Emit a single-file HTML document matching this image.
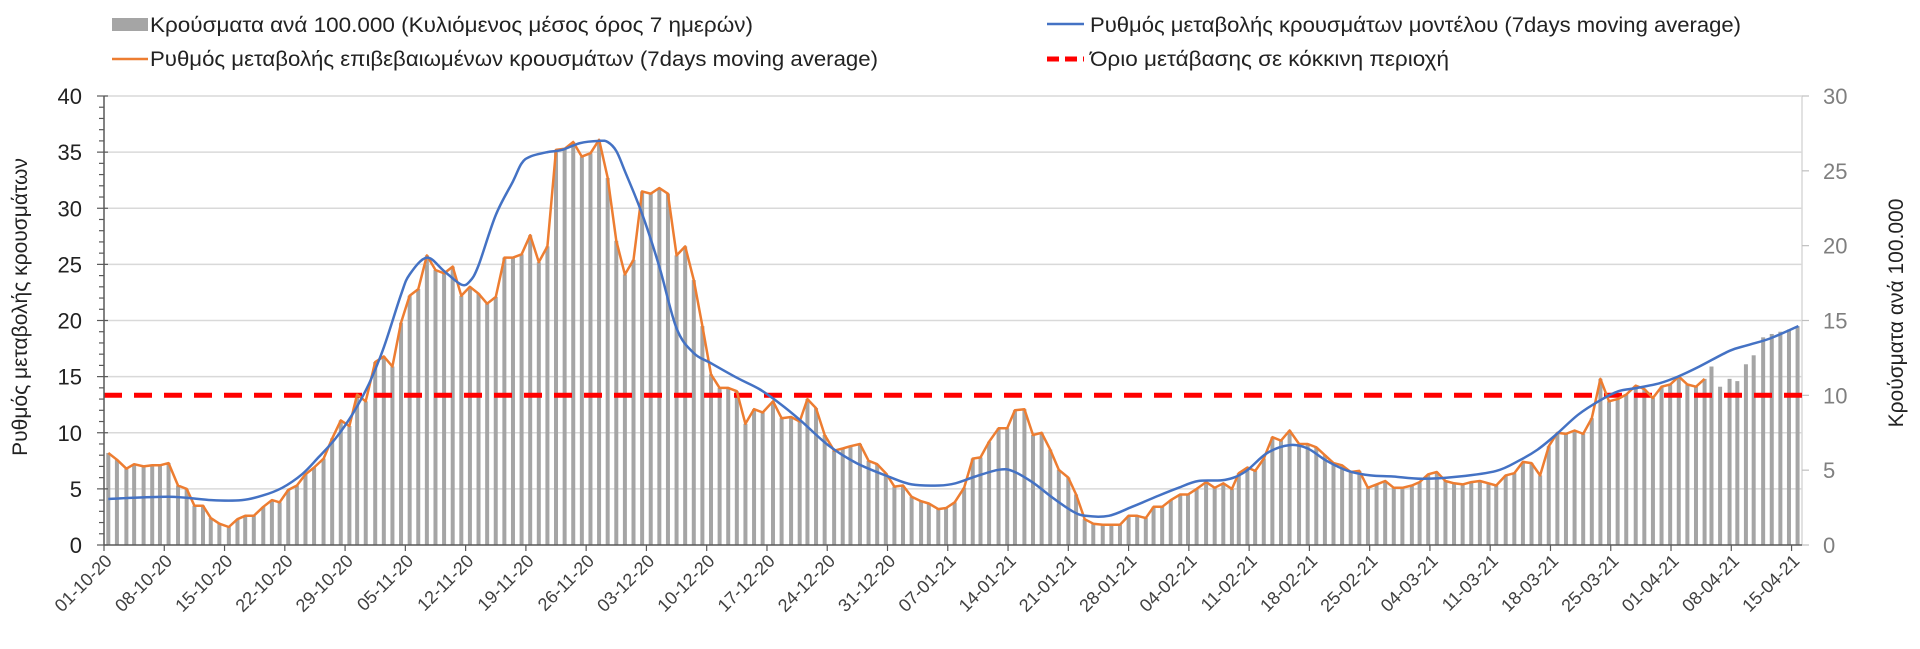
<!DOCTYPE html>
<html><head><meta charset="utf-8"><style>
html,body{margin:0;padding:0;background:#fff;}
svg{display:block;font-family:"Liberation Sans",sans-serif;}
</style></head><body>
<svg id="c" width="1920" height="649" viewBox="0 0 1920 649" xmlns="http://www.w3.org/2000/svg">
<rect width="1920" height="649" fill="#fff"/>
<g id="grid"></g>
<g id="bars"></g>
<line x1="104" y1="395.3" x2="1802" y2="395.3" stroke="#ff0000" stroke-width="5" stroke-dasharray="18 12"/>
<g id="lines"></g>
<g id="axes"></g>
<!-- legend -->
<rect x="112" y="18" width="36" height="13" fill="#a5a5a5"/>
<text x="150" y="32" font-size="21" fill="#222" textLength="603" lengthAdjust="spacingAndGlyphs">Κρούσματα ανά 100.000 (Κυλιόμενος μέσος όρος 7 ημερών)</text>
<line x1="112" y1="59" x2="148" y2="59" stroke="#ed7d31" stroke-width="2.5"/>
<text x="150" y="66" font-size="21" fill="#222" textLength="728" lengthAdjust="spacingAndGlyphs">Ρυθμός μεταβολής επιβεβαιωμένων κρουσμάτων (7days moving average)</text>
<line x1="1047" y1="24" x2="1084" y2="24" stroke="#4472c4" stroke-width="2.5"/>
<text x="1090" y="32" font-size="21" fill="#222" textLength="651" lengthAdjust="spacingAndGlyphs">Ρυθμός μεταβολής κρουσμάτων μοντέλου (7days moving average)</text>
<line x1="1047" y1="59" x2="1084" y2="59" stroke="#ff0000" stroke-width="5" stroke-dasharray="12 6"/>
<text x="1090" y="66" font-size="21" fill="#222" textLength="359" lengthAdjust="spacingAndGlyphs">Όριο μετάβασης σε κόκκινη περιοχή</text>
<text transform="translate(27,307) rotate(-90)" text-anchor="middle" font-size="21" fill="#222">Ρυθμός μεταβολής κρουσμάτων</text>
<text transform="translate(1903,313) rotate(-90)" text-anchor="middle" font-size="21" fill="#222">Κρούσματα ανά 100.000</text>
</svg>
<script>
var NS="http://www.w3.org/2000/svg";
function el(p,t,a,txt){var e=document.createElementNS(NS,t);for(var k in a)e.setAttribute(k,a[k]);if(txt!==undefined)e.textContent=txt;document.getElementById(p).appendChild(e);return e;}
var Y0=545,PU=11.225;
function X(d){return 108.3+8.61*d;}
function Y(v){return Y0-v*PU;}
// grid
for(var v=5;v<=40;v+=5){el("grid","line",{x1:104,x2:1802,y1:Y(v),y2:Y(v),stroke:"#d9d9d9","stroke-width":1.5});}
el("grid","line",{x1:1802,x2:1802,y1:Y(40),y2:Y0,stroke:"#d9d9d9","stroke-width":1.5});
var O=[[0,8.2],[1,7.6],[2.1,6.8],[3,7.2],[4.1,7.0],[5.1,7.1],[6,7.1],[7,7.3],[8.1,5.3],[9.1,5.0],[10,3.5],[11,3.5],[11.9,2.4],[12.9,1.9],[14,1.6],[15,2.3],[15.9,2.6],[16.9,2.6],[18,3.4],[19,4.0],[19.9,3.8],[20.9,4.9],[21.9,5.3],[22.9,6.3],[23.9,6.9],[25,7.7],[26,9.5],[27,11.1],[28,10.6],[28.9,13.4],[29.9,12.8],[31,16.3],[32,16.8],[33,15.9],[34,19.8],[35,22.2],[36,22.8],[37,25.8],[38,24.5],[39,24.2],[40,24.8],[41,22.2],[42,23.0],[43,22.4],[44,21.5],[45,22.1],[46,25.6],[47,25.6],[48,25.9],[49,27.6],[50,25.2],[51,26.6],[52,35.2],[53,35.3],[54,35.9],[55,34.6],[56,34.9],[57,36.1],[58,32.7],[59,27.1],[60,24.1],[61,25.4],[62,31.5],[63,31.3],[64,31.8],[65,31.3],[66,25.8],[67,26.6],[68,23.6],[69,19.5],[70,15.2],[71,14.0],[72,14.0],[73,13.7],[74,10.8],[75,12.1],[76,11.8],[77.2,12.8],[78.2,11.3],[79.3,11.4],[80.3,11.0],[81.2,13.0],[82.2,12.2],[83.2,9.8],[84.3,8.4],[85.3,8.6],[86.2,8.8],[87.3,9.0],[88.3,7.5],[89.3,7.2],[90.3,6.4],[91.3,5.2],[92.3,5.3],[93.3,4.3],[94.4,3.9],[95.3,3.7],[96.4,3.2],[97.3,3.3],[98.3,3.8],[99.4,5.1],[100.4,7.7],[101.3,7.8],[102.3,9.2],[103.4,10.4],[104.4,10.4],[105.3,12.0],[106.4,12.1],[107.4,9.8],[108.4,10.0],[109.4,8.5],[110.4,6.7],[111.5,6.0],[112.4,4.5],[113.4,2.3],[114.4,1.9],[115.5,1.8],[116.5,1.8],[117.5,1.8],[118.5,2.6],[119.5,2.6],[120.5,2.4],[121.4,3.4],[122.4,3.4],[123.4,4.0],[124.5,4.5],[125.4,4.5],[126.4,5.0],[127.5,5.6],[128.5,5.1],[129.5,5.5],[130.5,5.0],[131.3,6.4],[132.3,6.9],[133.2,6.6],[134.2,7.7],[135.2,9.6],[136.2,9.3],[137.2,10.2],[138.3,9.0],[139.3,9.0],[140.3,8.7],[141.3,8.0],[142.3,7.3],[143.3,7.1],[144.3,6.5],[145.3,6.6],[146.3,5.1],[147.3,5.4],[148.3,5.7],[149.3,5.1],[150.3,5.1],[151.4,5.3],[152.3,5.6],[153.3,6.3],[154.3,6.5],[155.3,5.7],[156.3,5.5],[157.3,5.4],[158.3,5.6],[159.3,5.7],[160.3,5.5],[161.2,5.3],[162.3,6.2],[163.3,6.4],[164.3,7.4],[165.3,7.3],[166.3,6.2],[167.3,8.8],[168.3,10.0],[169.3,9.9],[170.3,10.2],[171.3,9.9],[172.3,11.3],[173.3,14.8],[174.3,12.8],[175.3,13.0],[176.3,13.4],[177.4,14.2],[178.4,13.9],[179.4,13.1],[180.4,14.1],[181.4,14.3],[182.4,15.0],[183.4,14.3],[184.4,14.1],[185.4,14.8]];
var EB=[[186.2,15.9],[187.2,14.1],[188.3,14.8],[189.2,14.6],[190.2,16.1],[191.1,16.9],[192.2,18.5],[193.2,18.8],[194.2,19.0],[195.2,19.2],[196.2,19.5]];
var B=O.concat(EB);
B.forEach(function(p){var x=X(p[0]);el("bars","rect",{x:x-2,y:Y(p[1]),width:4,height:Y0-Y(p[1]),fill:"#a5a5a5"});});
var pts=O.map(function(p){return X(p[0]).toFixed(1)+","+Y(p[1]).toFixed(1);}).join(" ");
el("lines","polyline",{points:pts,fill:"none",stroke:"#ed7d31","stroke-width":2.5,"stroke-linejoin":"round"});
var Bl=[[0,4.1],[7,4.3],[12,4.0],[15.5,4.0],[17.9,4.4],[20.2,5.1],[22.5,6.3],[24.4,7.8],[26.4,9.5],[28.4,11.7],[30.3,14.4],[32,17.6],[34,22.3],[35,24.1],[37,25.6],[39,24.4],[41,23.2],[42,23.5],[43,24.9],[45,29.4],[47,32.4],[48,34.0],[49,34.6],[51,35.0],[52.7,35.2],[54.8,35.8],[57,36.0],[58,35.9],[59,35.1],[60,33.3],[62,29.5],[64,24.8],[66,19.3],[68,17.1],[70,16.2],[73,14.9],[75.6,13.9],[78,12.6],[80.4,11.1],[83.6,8.9],[86.9,7.3],[90.6,6.1],[93.3,5.4],[96.5,5.3],[98.4,5.5],[100.7,6.1],[103.4,6.7],[105,6.6],[107.3,5.6],[109.7,4.2],[112,3.0],[113.5,2.6],[116.2,2.6],[118.9,3.4],[122,4.4],[124.3,5.1],[126.6,5.7],[129.7,5.8],[132,6.5],[134.6,8.2],[137.2,8.9],[139.3,8.6],[141.5,7.5],[144,6.6],[146.6,6.2],[149.2,6.1],[152.6,5.9],[156.9,6.1],[161.2,6.6],[163.8,7.5],[166,8.5],[168.1,9.8],[170.7,11.6],[173.3,12.9],[175.4,13.7],[177.6,14.0],[180.1,14.4],[182.3,15.0],[184.8,15.9],[188.3,17.3],[190.4,17.8],[193,18.4],[196.3,19.5]];
var P=Bl.map(function(p){return [X(p[0]),Y(p[1])];});
var d="M"+P[0][0]+","+P[0][1];
for(var i=0;i<P.length-1;i++){var p0=P[Math.max(0,i-1)],p1=P[i],p2=P[i+1],p3=P[Math.min(P.length-1,i+2)];
var c1x=p1[0]+(p2[0]-p0[0])/6,c1y=p1[1]+(p2[1]-p0[1])/6,c2x=p2[0]-(p3[0]-p1[0])/6,c2y=p2[1]-(p3[1]-p1[1])/6;
d+=" C"+c1x.toFixed(1)+","+c1y.toFixed(1)+" "+c2x.toFixed(1)+","+c2y.toFixed(1)+" "+p2[0].toFixed(1)+","+p2[1].toFixed(1);}
el("lines","path",{d:d,fill:"none",stroke:"#4472c4","stroke-width":2.5});
// axes
el("axes","line",{x1:104,x2:104,y1:Y(40),y2:Y0,stroke:"#595959","stroke-width":1.5});
el("axes","line",{x1:104,x2:1802,y1:Y0,y2:Y0,stroke:"#595959","stroke-width":1.5});
for(var v=0;v<=40;v++){var maj=v%5==0;el("axes","line",{x1:maj?97:99,x2:maj?108:104,y1:Y(v),y2:Y(v),stroke:"#595959","stroke-width":1.2});
if(maj)el("axes","text",{x:82,y:Y(v)+8,"text-anchor":"end","font-size":22,fill:"#222"},String(v));}
for(var r=0;r<=30;r+=5){var yy=Y(r*40/30);el("axes","line",{x1:1802,x2:1809,y1:yy,y2:yy,stroke:"#bfbfbf","stroke-width":1.2});
el("axes","text",{x:1823,y:yy+8,"font-size":22,fill:"#7f7f7f"},String(r));}
var labs=["01-10-20","08-10-20","15-10-20","22-10-20","29-10-20","05-11-20","12-11-20","19-11-20","26-11-20","03-12-20","10-12-20","17-12-20","24-12-20","31-12-20","07-01-21","14-01-21","21-01-21","28-01-21","04-02-21","11-02-21","18-02-21","25-02-21","04-03-21","11-03-21","18-03-21","25-03-21","01-04-21","08-04-21","15-04-21"];
for(var k=0;k<labs.length;k++){var tx=104+60.27*k;el("axes","line",{x1:tx,x2:tx,y1:Y0,y2:Y0+6,stroke:"#595959","stroke-width":1.2});
el("axes","text",{transform:"translate("+(tx+9)+",562) rotate(-45)","text-anchor":"end","font-size":18,fill:"#404040"},labs[k]);}
</script>
</body></html>
